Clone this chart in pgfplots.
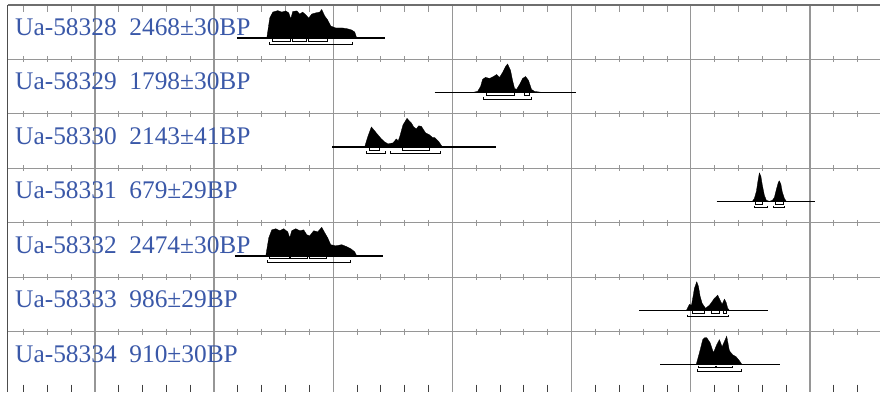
\documentclass[border=0pt]{standalone}
\usepackage{pgfplots}
\pgfplotsset{compat=1.18}
\usepackage{pgfplotstable}
\usepackage{fontspec}
\setmainfont{Liberation Serif}

\definecolor{labblue}{RGB}{58,88,168}
\definecolor{gridc}{RGB}{150,150,150}
\definecolor{framec}{RGB}{110,110,110}

% Calibrated date distributions (cal. year, relative probability)
\pgfplotstableread{
yr p
-778.8 0
-766.3 0.70
-753.7 0.91
-732.7 0.96
-716.0 0.91
-699.2 0.95
-686.6 0.88
-678.2 0.67
-669.9 0.93
-653.1 0.95
-640.5 0.84
-627.9 0.91
-615.4 0.81
-602.8 0.70
-590.2 0.84
-573.5 0.88
-556.7 0.91
-548.3 1.00
-535.7 0.77
-523.2 0.63
-510.6 0.42
-489.6 0.35
-460.3 0.35
-439.4 0.32
-422.6 0.28
-410.0 0.21
-401.6 0
}\distA

\pgfplotstableread{
yr p
84.7 0
105.6 0.035
118.2 0.21
126.6 0.46
139.2 0.53
155.9 0.49
172.7 0.56
185.3 0.63
197.8 0.53
210.4 0.70
223.0 0.91
231.4 1.00
243.9 0.77
252.3 0.42
260.7 0.14
269.1 0.105
281.7 0.28
294.2 0.49
306.8 0.56
319.4 0.42
331.9 0.105
344.5 0.035
378.1 0
}\distB

\pgfplotstableread{
yr p
-368.0 0
-355.5 0.35
-340.0 0.70
-326.1 0.56
-312.3 0.42
-298.0 0.28
-284.2 0.175
-270.4 0.105
-249.4 0.14
-235.2 0.28
-227.6 0.21
-221.3 0.35
-207.5 0.77
-190.7 1.00
-172.3 0.84
-162.6 0.70
-151.3 0.63
-141.7 0.74
-130.4 0.72
-112.3 0.49
-95.6 0.42
-83.0 0.32
-74.6 0.33
-56.6 0.175
-42.3 0
}\distC

\pgfplotstableread{
yr p
1258.4 0
1266.7 0.105
1275.1 0.35
1281.4 0.70
1287.7 1.00
1294.0 0.88
1300.3 0.56
1308.7 0.21
1317.0 0.035
1329.6 0
1342.2 0.035
1350.6 0.14
1359.0 0.42
1367.3 0.67
1371.5 0.72
1377.8 0.60
1384.1 0.32
1392.5 0.105
1400.9 0
}\distD

\pgfplotstableread{
yr p
-783.0 0
-770.5 0.63
-757.9 0.91
-741.1 0.95
-724.4 0.88
-707.6 0.95
-690.9 0.84
-682.5 0.63
-674.1 0.88
-657.3 0.95
-640.5 0.88
-623.8 0.91
-611.2 0.74
-598.6 0.70
-581.9 0.88
-565.1 0.84
-548.3 1.00
-535.7 0.81
-523.2 0.63
-510.6 0.39
-489.6 0.35
-464.5 0.39
-443.5 0.32
-426.7 0.25
-410.0 0.14
-401.6 0
}\distE

\pgfplotstableread{
yr p
981.7 0
994.3 0.21
1002.7 0.175
1008.1 0.42
1015.2 0.77
1024.9 1.00
1032.0 0.84
1039.1 0.49
1047.5 0.245
1061.3 0.07
1078.1 0.175
1090.7 0.32
1099.1 0.42
1112.9 0.53
1123.0 0.35
1131.4 0.21
1141.0 0.39
1148.1 0.28
1154.8 0.07
1162.0 0
}\distF

\pgfplotstableread{
yr p
1022.4 0
1036.2 0.42
1050.0 0.88
1058.0 0.95
1066.8 0.95
1081.0 0.77
1094.9 0.42
1108.7 0.70
1120.0 0.88
1131.3 0.63
1142.2 0.84
1150.6 1.00
1161.9 0.49
1175.7 0.35
1190.0 0.28
1203.8 0.14
1215.2 0
}\distG

% range bracket: from, to, level, level of the end ticks
\newcommand{\rng}[4]{\addplot[black, line width=0.7pt] coordinates {(#1,#4) (#1,#3) (#2,#3) (#2,#4)};}

\begin{document}
\begin{tikzpicture}
\begin{axis}[
  width=881pt, height=392pt, scale only axis,
  xmin=-1898, xmax=1795, ymin=0, ymax=392, y dir=reverse,
  hide axis, clip=false,
]
\path (rel axis cs:0,0) rectangle (rel axis cs:1,1);

% row separators
\pgfplotsinvokeforeach{59.5,114,168.5,223,277.5,332}{
  \draw[gridc, line width=1pt] (axis cs:-1866.5,#1) -- (axis cs:1795,#1);
}
% century ticks on every row line
\pgfplotsinvokeforeach{-1800,-1700,...,1700}{
  \draw[gridc, line width=0.9pt] (axis cs:#1,5) -- (axis cs:#1,12);
  \draw[gridc, line width=0.9pt] (axis cs:#1,56.5) -- (axis cs:#1,62.5);
  \draw[gridc, line width=0.9pt] (axis cs:#1,111) -- (axis cs:#1,117);
  \draw[gridc, line width=0.9pt] (axis cs:#1,165.5) -- (axis cs:#1,171.5);
  \draw[gridc, line width=0.9pt] (axis cs:#1,220) -- (axis cs:#1,226);
  \draw[gridc, line width=0.9pt] (axis cs:#1,274.5) -- (axis cs:#1,280.5);
  \draw[gridc, line width=0.9pt] (axis cs:#1,329) -- (axis cs:#1,335);
  \draw[black!75, line width=0.9pt] (axis cs:#1,385) -- (axis cs:#1,392);
}
% 500-year grid
\pgfplotsinvokeforeach{-1500,-1000,...,1500}{
  \draw[gridc, line width=1.3pt] (axis cs:#1,5) -- (axis cs:#1,392);
}
% frame
\draw[framec, line width=1.4pt] (axis cs:-1866.5,5) -- (axis cs:1795,5);
\draw[framec!70!black, line width=1.2pt] (axis cs:-1866.5,5) -- (axis cs:-1866.5,392);

% sample labels
\tikzset{lab/.style={anchor=base west, inner sep=0pt, text=labblue,
  font=\fontsize{25.4}{30}\selectfont}}
\node[lab] at (axis cs:-1835,35.5) {Ua-58328\ \ 2468±30BP};
\node[lab] at (axis cs:-1835,90) {Ua-58329\ \ 1798±30BP};
\node[lab] at (axis cs:-1835,144.5) {Ua-58330\ \ 2143±41BP};
\node[lab] at (axis cs:-1835,199) {Ua-58331\ \ 679±29BP};
\node[lab] at (axis cs:-1835,253.5) {Ua-58332\ \ 2474±30BP};
\node[lab] at (axis cs:-1835,308) {Ua-58333\ \ 986±29BP};
\node[lab] at (axis cs:-1835,362.5) {Ua-58334\ \ 910±30BP};

% Ua-58328
\addplot[black, line width=1.5pt] coordinates {(-904.6,38) (-284,38)};
\addplot[fill=black, draw=black, line width=0.3pt] table[x=yr, y expr={38-28.5*\thisrow{p}}] {\distA};
\rng{-757}{-682}{41}{39}
\rng{-670}{-611}{41}{39}
\rng{-603}{-523}{41}{39}
\rng{-770}{-421}{44.5}{42.5}

% Ua-58329
\addplot[black, line width=1.5pt] coordinates {(-74.6,92.5) (519,92.5)};
\addplot[fill=black, draw=black, line width=0.3pt] table[x=yr, y expr={92.5-28.5*\thisrow{p}}] {\distB};
\rng{142}{260.7}{95.5}{93.5}
\rng{299.7}{323.6}{95.5}{93.5}
\rng{127.8}{330.7}{99}{97}

% Ua-58330
\addplot[black, line width=1.5pt] coordinates {(-503.4,147) (184,147)};
\addplot[fill=black, draw=black, line width=0.3pt] table[x=yr, y expr={147-28.5*\thisrow{p}}] {\distC};
\rng{-350}{-308}{150}{148}
\rng{-210}{-98.5}{150}{148}
\rng{-361}{-280}{153.5}{151.5}
\rng{-260.3}{-50.7}{153.5}{151.5}

% Ua-58331
\addplot[black, line width=1.5pt] coordinates {(1108.7,201.5) (1522.4,201.5)};
\addplot[fill=black, draw=black, line width=0.3pt] table[x=yr, y expr={201.5-28.5*\thisrow{p}}] {\distD};
\rng{1269.6}{1301.5}{204.5}{202.5}
\rng{1353.5}{1389.6}{204.5}{202.5}
\rng{1266.7}{1320}{208}{206}
\rng{1347.6}{1392.5}{208}{206}

% Ua-58332
\addplot[black, line width=1.5pt] coordinates {(-912.7,256) (-292.6,256)};
\addplot[fill=black, draw=black, line width=0.3pt] table[x=yr, y expr={256-28.5*\thisrow{p}}] {\distE};
\rng{-766}{-686}{259}{257}
\rng{-678}{-607}{259}{257}
\rng{-599}{-528}{259}{257}
\rng{-775}{-430}{262.5}{260.5}

% Ua-58333
\addplot[black, line width=1.5pt] coordinates {(784.7,310.5) (1322.5,310.5)};
\addplot[fill=black, draw=black, line width=0.3pt] table[x=yr, y expr={310.5-28.5*\thisrow{p}}] {\distF};
\rng{1008}{1057}{313.5}{311.5}
\rng{1085}{1120}{313.5}{311.5}
\rng{1138}{1151}{313.5}{311.5}
\rng{987}{1159}{317}{315}

% Ua-58334
\addplot[black, line width=1.5pt] coordinates {(872.7,365) (1375.7,365)};
\addplot[fill=black, draw=black, line width=0.3pt] table[x=yr, y expr={365-28.5*\thisrow{p}}] {\distG};
\rng{1033}{1103}{368}{366}
\rng{1108.7}{1173}{368}{366}
\rng{1029}{1211}{371.5}{369.5}
\end{axis}
\end{tikzpicture}
\end{document}
